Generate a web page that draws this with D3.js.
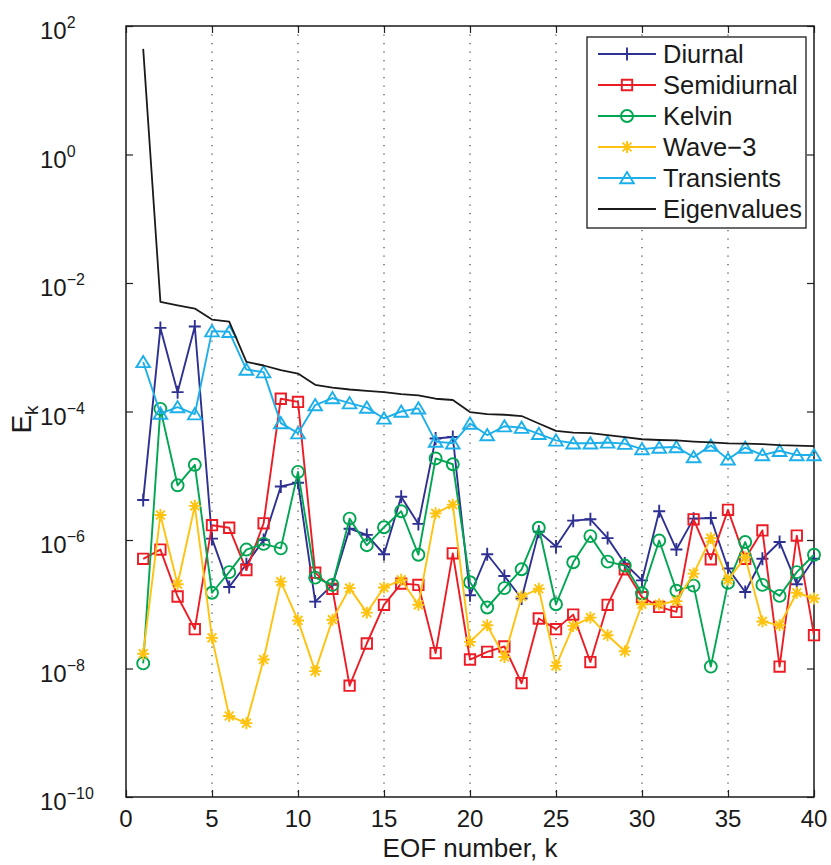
<!DOCTYPE html>
<html>
<head>
<meta charset="utf-8">
<script src="https://cdn.jsdelivr.net/npm/d3@7/dist/d3.min.js"></script>
<style>
  body { margin: 0; background: #fff; }
  text { font-family: "Liberation Sans", Arial, Helvetica, sans-serif; fill: #1a1a1a; }
</style>
</head>
<body>
<svg id="chart" width="831" height="865"></svg>
<script>
// EOF index k
const eofNumbers = [1,2,3,4,5,6,7,8,9,10,11,12,13,14,15,16,17,18,19,20,
                    21,22,23,24,25,26,27,28,29,30,31,32,33,34,35,36,37,38,39,40];

// Energy E_k projected onto each EOF, per signal component
const diurnal = [4.2e-6,2.0e-3,2.0e-4,2.1e-3,1.05e-6,1.86e-7,4.2e-7,1.0e-6,6.8e-6,7.8e-6,
                 1.1e-7,2.0e-7,1.5e-6,1.2e-6,6.0e-7,4.7e-6,1.78e-6,3.8e-5,4.0e-5,1.38e-7,
                 6.0e-7,2.75e-7,1.23e-7,1.35e-6,7.9e-7,2.0e-6,2.1e-6,1.07e-6,4.3e-7,2.35e-7,
                 2.8e-6,7.1e-7,2.15e-6,2.2e-6,3.6e-7,1.55e-7,5.1e-7,9.3e-7,2.05e-7,5.1e-7];
const semidiurnal = [5.1e-7,7.1e-7,1.32e-7,4.1e-8,1.7e-6,1.55e-6,3.4e-7,1.82e-6,1.58e-4,1.41e-4,
                     3.1e-7,1.74e-7,5.4e-9,2.45e-8,9.8e-8,2.1e-7,2.0e-7,1.74e-8,6.2e-7,1.38e-8,
                     1.82e-8,2.2e-8,5.9e-9,6.0e-8,4.1e-8,6.9e-8,1.26e-8,9.8e-8,3.5e-7,1.29e-7,
                     9.1e-8,7.6e-8,2.1e-6,5.0e-7,2.95e-6,5.1e-7,1.41e-6,1.07e-8,1.17e-6,3.3e-8];
const kelvin = [1.2e-8,1.1e-4,7.1e-6,1.48e-5,1.51e-7,3.16e-7,7.1e-7,8.7e-7,7.4e-7,1.15e-5,
                2.6e-7,2.0e-7,2.15e-6,8.3e-7,1.58e-6,2.8e-6,5.9e-7,1.86e-5,1.51e-5,2.2e-7,
                8.9e-8,1.78e-7,3.5e-7,1.55e-6,1.0e-7,4.5e-7,1.15e-6,4.6e-7,4.0e-7,1.48e-7,
                9.8e-7,1.62e-7,1.95e-7,1.07e-8,2.15e-7,9.3e-7,2.0e-7,1.35e-7,3.16e-7,5.9e-7];
const wave3 = [1.7e-8,2.45e-6,2.05e-7,3.4e-6,3.0e-8,1.82e-9,1.41e-9,1.38e-8,2.25e-7,5.6e-8,
               9.1e-9,5.75e-8,1.78e-7,7.4e-8,1.82e-7,2.4e-7,9.8e-8,2.6e-6,3.55e-6,2.6e-8,
               4.7e-8,1.51e-8,1.32e-7,1.74e-7,1.1e-8,4.6e-8,6.2e-8,3.3e-8,1.86e-8,1.0e-7,
               1.0e-7,1.12e-7,3.0e-7,1.07e-6,2.4e-7,5.4e-7,5.4e-8,4.7e-8,1.51e-7,1.23e-7];
const transients = [5.9e-4,9.3e-5,1.17e-4,9.1e-5,1.78e-3,1.74e-3,4.5e-4,4.1e-4,6.6e-5,4.6e-5,
                    1.26e-4,1.62e-4,1.35e-4,1.15e-4,7.8e-5,1.0e-4,1.12e-4,3.4e-5,3.2e-5,6.5e-5,
                    4.3e-5,5.9e-5,5.6e-5,4.5e-5,3.55e-5,3.2e-5,3.2e-5,3.3e-5,3.16e-5,2.6e-5,
                    2.75e-5,2.8e-5,1.95e-5,2.95e-5,1.8e-5,2.75e-5,2.1e-5,2.45e-5,2.1e-5,2.1e-5];
const eigenvalues = [44,5.1e-3,4.5e-3,4.0e-3,2.7e-3,2.5e-3,5.9e-4,5.2e-4,4.4e-4,3.9e-4,
                     2.6e-4,2.35e-4,2.2e-4,2.1e-4,2.0e-4,1.86e-4,1.78e-4,1.58e-4,1.51e-4,9.8e-5,
                     9.1e-5,8.9e-5,8.5e-5,6.5e-5,5.0e-5,4.7e-5,4.6e-5,4.3e-5,4.0e-5,3.7e-5,
                     3.6e-5,3.55e-5,3.4e-5,3.3e-5,3.2e-5,3.16e-5,3.1e-5,3.0e-5,2.95e-5,2.9e-5];

const seriesNames = ["Diurnal","Semidiurnal","Kelvin","Wave\u22123","Transients","Eigenvalues"];
const xTicks = [0,5,10,15,20,25,30,35,40];
const xGrid = [5,10,15,20,25,30,35];
const yTickExponents = [2,0,-2,-4,-6,-8,-10];

// Plot frame
const frame = { left: 126, right: 814, top: 26, bottom: 797 };

const svg = d3.select("#chart");
const x = d3.scaleLinear().domain([0, 40]).range([frame.left, frame.right]);
const y = d3.scaleLog().domain([1e-10, 1e2]).range([frame.bottom, frame.top]);

// marker glyphs centred on the point
const markerPaths = {
  plus: "M-6,0H6M0,-6.5V6.5",
  square: "M-5.2,-5.2H5.2V5.2H-5.2Z",
  circle: "M6,0A6,6 0 1,1 -6,0A6,6 0 1,1 6,0Z",
  star: "M-6,0H6M0,-6V6M-4.4,-4.4L4.4,4.4M-4.4,4.4L4.4,-4.4",
  triangle: "M0,-6L6.8,5.2H-6.8Z",
  none: null
};

const series = [
  { name: seriesNames[0], values: diurnal,     color: "#2e3192", marker: "plus" },
  { name: seriesNames[1], values: semidiurnal, color: "#ed1c24", marker: "square" },
  { name: seriesNames[2], values: kelvin,      color: "#00a651", marker: "circle" },
  { name: seriesNames[3], values: wave3,       color: "#ffc20e", marker: "star" },
  { name: seriesNames[4], values: transients,  color: "#1cafea", marker: "triangle" },
  { name: seriesNames[5], values: eigenvalues, color: "#1a1a1a", marker: "none" }
];

// dotted vertical grid
svg.append("g").selectAll("line").data(xGrid).join("line")
  .attr("x1", d => x(d)).attr("x2", d => x(d))
  .attr("y1", frame.top).attr("y2", frame.bottom)
  .attr("stroke", "#333").attr("stroke-width", 1.1)
  .attr("stroke-dasharray", "1.2,7.3");

// axes with inward ticks on all four sides
const tickLen = 7;
function styleAxis(g) {
  g.select(".domain").remove();
  g.selectAll(".tick line").attr("stroke", "#222").attr("stroke-width", 1.2);
}
svg.append("g").attr("transform", `translate(0,${frame.bottom})`)
  .call(d3.axisBottom(x).tickValues(xTicks).tickSize(-tickLen).tickFormat(""))
  .call(styleAxis);
svg.append("g").attr("transform", `translate(0,${frame.top})`)
  .call(d3.axisTop(x).tickValues(xTicks).tickSize(-tickLen).tickFormat(""))
  .call(styleAxis);
const yTickVals = yTickExponents.map(e => Math.pow(10, e));
svg.append("g").attr("transform", `translate(${frame.left},0)`)
  .call(d3.axisLeft(y).tickValues(yTickVals).tickSize(-tickLen).tickFormat(""))
  .call(styleAxis);
svg.append("g").attr("transform", `translate(${frame.right},0)`)
  .call(d3.axisRight(y).tickValues(yTickVals).tickSize(-tickLen).tickFormat(""))
  .call(styleAxis);

// box
svg.append("rect")
  .attr("x", frame.left).attr("y", frame.top)
  .attr("width", frame.right - frame.left).attr("height", frame.bottom - frame.top)
  .attr("fill", "none").attr("stroke", "#1a1a1a").attr("stroke-width", 1.5);

// x tick labels
svg.append("g").selectAll("text").data(xTicks).join("text")
  .attr("x", d => x(d)).attr("y", frame.bottom + 30)
  .attr("text-anchor", "middle").attr("font-size", 24)
  .text(d => d);

// y tick labels as 10 with a superscript exponent
const yLab = svg.append("g").selectAll("text").data(yTickExponents).join("text")
  .attr("x", 40).attr("y", d => y(Math.pow(10, d)) + 13)
  .attr("font-size", 24);
yLab.append("tspan").text("10");
yLab.append("tspan").attr("font-size", 16).attr("dy", -11)
  .text(d => d < 0 ? "\u2212" + Math.abs(d) : String(d));

// axis titles
svg.append("text")
  .attr("x", (frame.left + frame.right) / 2).attr("y", 857)
  .attr("text-anchor", "middle").attr("font-size", 26)
  .text("EOF number, k");
const yt = svg.append("text")
  .attr("transform", `translate(31,${(frame.top + frame.bottom) / 2 + 8}) rotate(-90)`)
  .attr("text-anchor", "middle").attr("font-size", 28);
yt.append("tspan").text("E");
yt.append("tspan").attr("font-size", 19).attr("dy", 7).text("k");

// series lines and markers
const line = d3.line().x((d, i) => x(eofNumbers[i])).y(d => y(d));
series.forEach(s => {
  const g = svg.append("g");
  g.append("path").datum(s.values)
    .attr("d", line)
    .attr("fill", "none").attr("stroke", s.color)
    .attr("stroke-width", s.marker === "none" ? 1.8 : 1.9)
    .attr("stroke-linejoin", "round");
  if (markerPaths[s.marker]) {
    g.selectAll("path.m").data(s.values).join("path").attr("class", "m")
      .attr("transform", (d, i) => `translate(${x(eofNumbers[i])},${y(d)})`)
      .attr("d", markerPaths[s.marker])
      .attr("fill", "none").attr("stroke", s.color).attr("stroke-width", 1.9);
  }
});

// legend
const lg = svg.append("g");
lg.append("rect")
  .attr("x", 587).attr("y", 37).attr("width", 219).attr("height", 191)
  .attr("fill", "#fff").attr("stroke", "#1a1a1a").attr("stroke-width", 1.3);
series.forEach((s, i) => {
  const yy = 54 + i * 31;
  lg.append("line").attr("x1", 598).attr("x2", 656).attr("y1", yy).attr("y2", yy)
    .attr("stroke", s.color).attr("stroke-width", 1.9);
  if (markerPaths[s.marker]) {
    lg.append("path").attr("transform", `translate(627,${yy})`)
      .attr("d", markerPaths[s.marker])
      .attr("fill", "none").attr("stroke", s.color).attr("stroke-width", 1.9);
  }
  lg.append("text").attr("x", 663).attr("y", yy + 9).attr("font-size", 25.5).text(s.name);
});
</script>
</body>
</html>
